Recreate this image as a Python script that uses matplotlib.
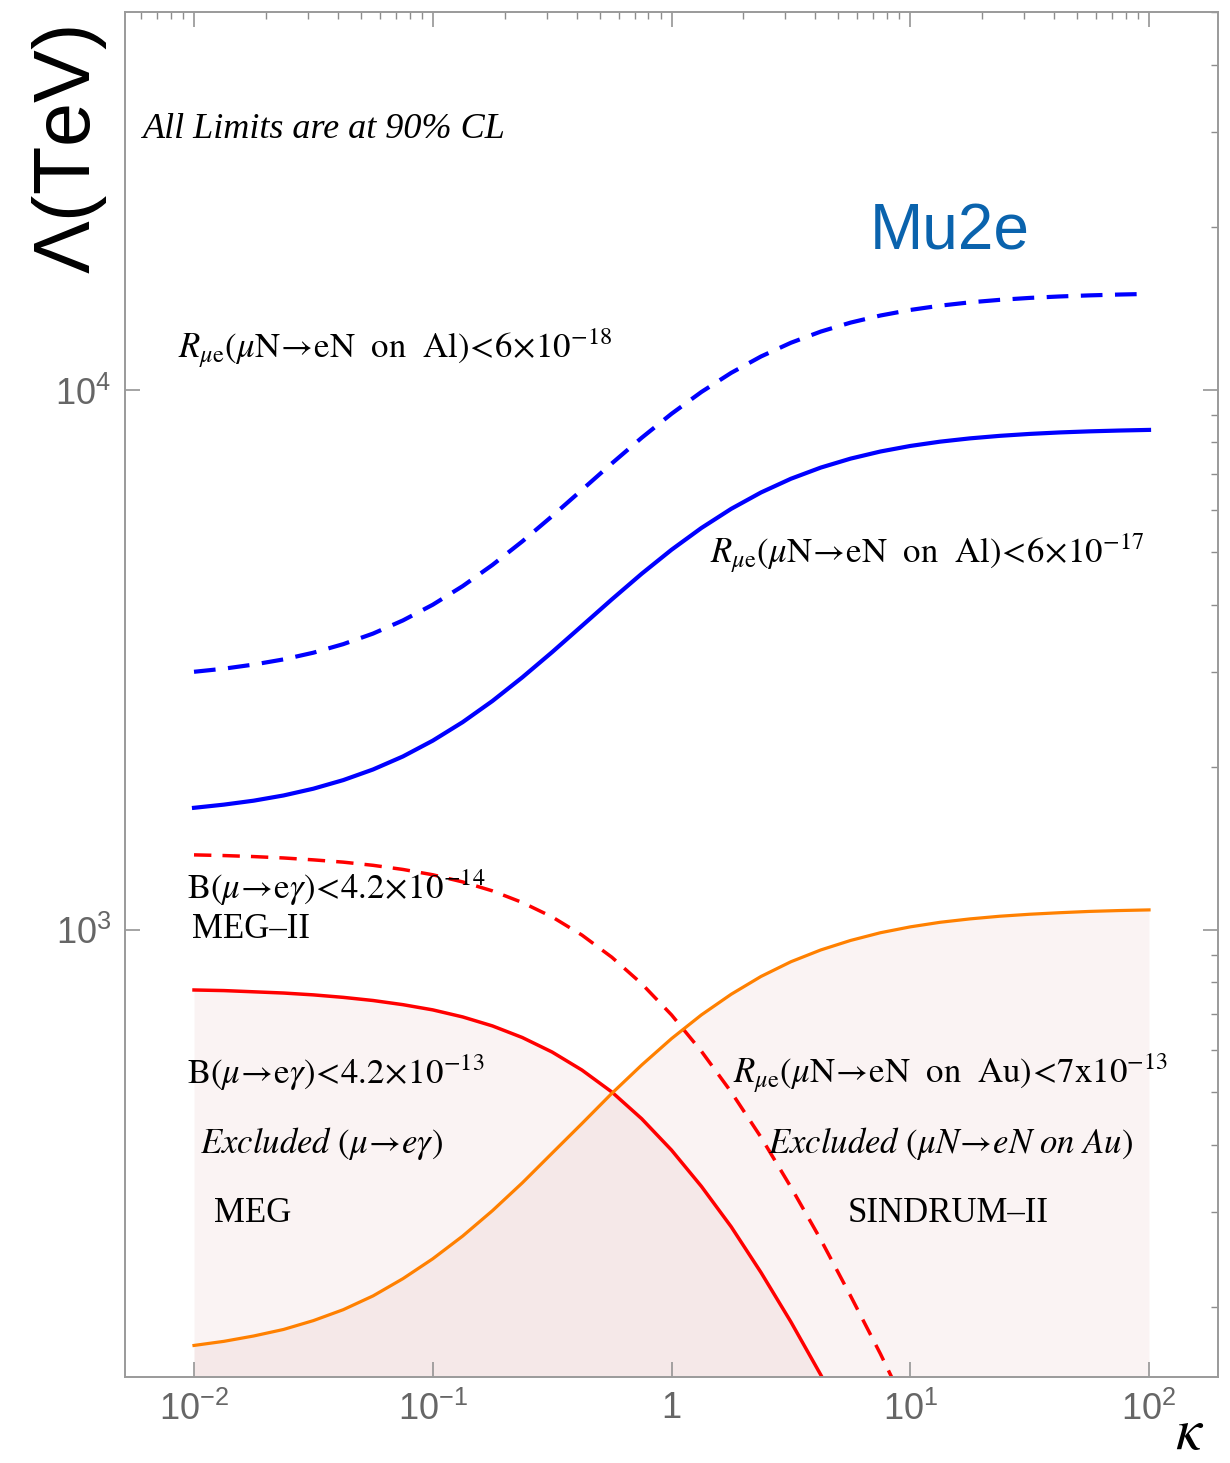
import matplotlib
matplotlib.use("Agg")
import matplotlib.pyplot as plt
from matplotlib.ticker import FixedLocator, FixedFormatter, LogLocator, NullFormatter

plt.rcParams['mathtext.fontset'] = 'custom'
plt.rcParams['mathtext.rm'] = 'Liberation Sans'
plt.rcParams['mathtext.it'] = 'Liberation Sans:italic'
plt.rcParams['mathtext.bf'] = 'Liberation Sans:bold'

# values (kappa on x, Lambda in TeV on y)
kappa = [0.01, 0.01334, 0.01778, 0.02371, 0.03162, 0.04217, 0.05623, 0.07499,
         0.1, 0.1334, 0.1778, 0.2371, 0.3162, 0.4217, 0.5623, 0.7499,
         1, 1.334, 1.778, 2.371, 3.162, 4.217, 5.623, 7.499,
         10, 13.34, 17.78, 23.71, 31.62, 42.17, 56.23, 74.99, 100]
mu2e_17 = [1683, 1706, 1735, 1774, 1826, 1894, 1982, 2095,
           2241, 2425, 2654, 2935, 3269, 3657, 4093, 4566,
           5058, 5550, 6022, 6458, 6846, 7180, 7460, 7690,
           7874, 8020, 8133, 8221, 8289, 8341, 8380, 8409, 8432]
mu2e_18 = [3006, 3046, 3100, 3169, 3261, 3382, 3538, 3742,
           4001, 4331, 4741, 5241, 5838, 6531, 7309, 8153,
           9032, 9912, 10754, 11533, 12226, 12823, 13324, 13733,
           14063, 14322, 14526, 14682, 14804, 14895, 14964, 15018, 15059]
sindrum_au = [170, 173, 177, 182, 189, 198, 210, 226,
              246, 271, 302, 340, 386, 438, 498, 562,
              629, 696, 760, 820, 873, 918, 956, 988,
              1013, 1033, 1048, 1060, 1069, 1076, 1082, 1086, 1089]
kappa_meg = kappa[:23]
meg = [774, 772, 768, 764, 758, 750, 740, 727,
       711, 690, 664, 632, 594, 550, 501, 447,
       391, 335, 282, 232, 188, 150, 118]
kappa_meg2 = kappa[:25]
meg2 = [1377, 1373, 1367, 1359, 1348, 1335, 1317, 1294,
        1265, 1227, 1181, 1124, 1057, 978, 890, 795,
        696, 596, 501, 413, 334, 267, 210, 164, 126]

x_ticks = [0.01, 0.1, 1, 10, 100]
x_tick_labels = ['$10^{-2}$', '$10^{-1}$', '$1$', '$10^{1}$', '$10^{2}$']
y_ticks = [1e3, 1e4]
y_tick_labels = ['$10^{3}$', '$10^{4}$']

W, H = 1230, 1463
fig = plt.figure(figsize=(W / 100, H / 100), dpi=100)
ax = fig.add_axes([125 / W, 1 - 1377 / H, (1218 - 125) / W, (1377 - 12) / H])
ax.set_xscale('log')
ax.set_yscale('log')
ax.set_xlim(0.00514, 194.5)
ax.set_ylim(148.6, 50100)

# excluded regions
ax.fill_between(kappa_meg, 100, meg, color='#c06969', alpha=0.075, lw=0)
ax.fill_between(kappa, 100, sindrum_au, color='#c06969', alpha=0.075, lw=0)

ax.plot(kappa, mu2e_18, color='#0000ff', lw=3.0, dashes=(5.2, 3))
ax.plot(kappa, mu2e_17, color='#0000ff', lw=3.0)
ax.plot(kappa_meg2, meg2, color='#ff0000', lw=2.5, dashes=(5, 3.2))
ax.plot(kappa_meg, meg, color='#ff0000', lw=2.5)
ax.plot(kappa, sindrum_au, color='#ff8000', lw=2.3)

gray = '#8c8c8c'
for s in ax.spines.values():
    s.set_color('#9a9a9a')
    s.set_linewidth(1.4)
ax.xaxis.set_major_locator(FixedLocator(x_ticks))
ax.xaxis.set_major_formatter(FixedFormatter(x_tick_labels))
ax.yaxis.set_major_locator(FixedLocator(y_ticks))
ax.yaxis.set_major_formatter(FixedFormatter(y_tick_labels))
ax.xaxis.set_minor_locator(LogLocator(base=10, subs=range(2, 10), numticks=20))
ax.yaxis.set_minor_locator(LogLocator(base=10, subs=range(2, 10), numticks=20))
ax.xaxis.set_minor_formatter(NullFormatter())
ax.yaxis.set_minor_formatter(NullFormatter())
ax.tick_params(which='major', direction='in', length=11, width=1.1, color=gray,
               top=True, right=True, labelsize=26, labelcolor='#666666', pad=10)
ax.tick_params(which='minor', direction='in', length=5, width=1.0, color=gray,
               top=True, right=True, bottom=False, left=False)


def px(x, y):
    return x / W, 1 - y / H


serif = 'Liberation Serif'
fig.text(*px(30, 150), r'$\Lambda$(TeV)', rotation=90, fontsize=57,
         family='Liberation Sans', va='center', ha='left')
fig.text(*px(1190, 1449), r'$\kappa$', fontsize=42, math_fontfamily='stix',
         ha='center', va='baseline')
fig.text(*px(143, 130), 'All Limits are at 90% CL', fontsize=26, family=serif,
         style='italic', va='center')
fig.text(*px(870, 233), 'Mu2e', fontsize=46, family='Liberation Sans',
         color='#0a63ad', va='center')

lbl = dict(fontsize=25, math_fontfamily='stix', va='center', ha='left')
fig.text(*px(178, 348), r'$R_{\mu\mathrm{e}}(\mu\mathrm{N}\!\rightarrow\!\mathrm{eN\ \ on\ \ Al})\!<\!6\!\times\!10^{-18}$', **lbl)
fig.text(*px(710, 553), r'$R_{\mu\mathrm{e}}(\mu\mathrm{N}\!\rightarrow\!\mathrm{eN\ \ on\ \ Al})\!<\!6\!\times\!10^{-17}$', **lbl)
fig.text(*px(187, 888), r'$\mathrm{B}(\mu\!\rightarrow\!\mathrm{e}\gamma)\!<\!4.2\!\times\!10^{-14}$', **lbl)
fig.text(*px(192, 930), 'MEG–II', fontsize=25, family=serif, va='center')
fig.text(*px(187, 1073), r'$\mathrm{B}(\mu\!\rightarrow\!\mathrm{e}\gamma)\!<\!4.2\!\times\!10^{-13}$', **lbl)
fig.text(*px(200, 1143), r'$\mathit{Excluded}\ (\mu\!\rightarrow\! e\gamma)$', **lbl)
fig.text(*px(214, 1213), 'MEG', fontsize=25, family=serif, va='center')
fig.text(*px(733, 1073), r'$R_{\mu\mathrm{e}}(\mu\mathrm{N}\!\rightarrow\!\mathrm{eN\ \ on\ \ Au})\!<\!7\mathrm{x}10^{-13}$', **lbl)
fig.text(*px(768, 1143), r'$\mathit{Excluded}\ (\mu N\!\rightarrow\! eN\ on\ Au)$', **lbl)
fig.text(*px(848, 1213), 'SINDRUM–II', fontsize=25, family=serif, va='center')

fig.savefig('out.png', dpi=100)
